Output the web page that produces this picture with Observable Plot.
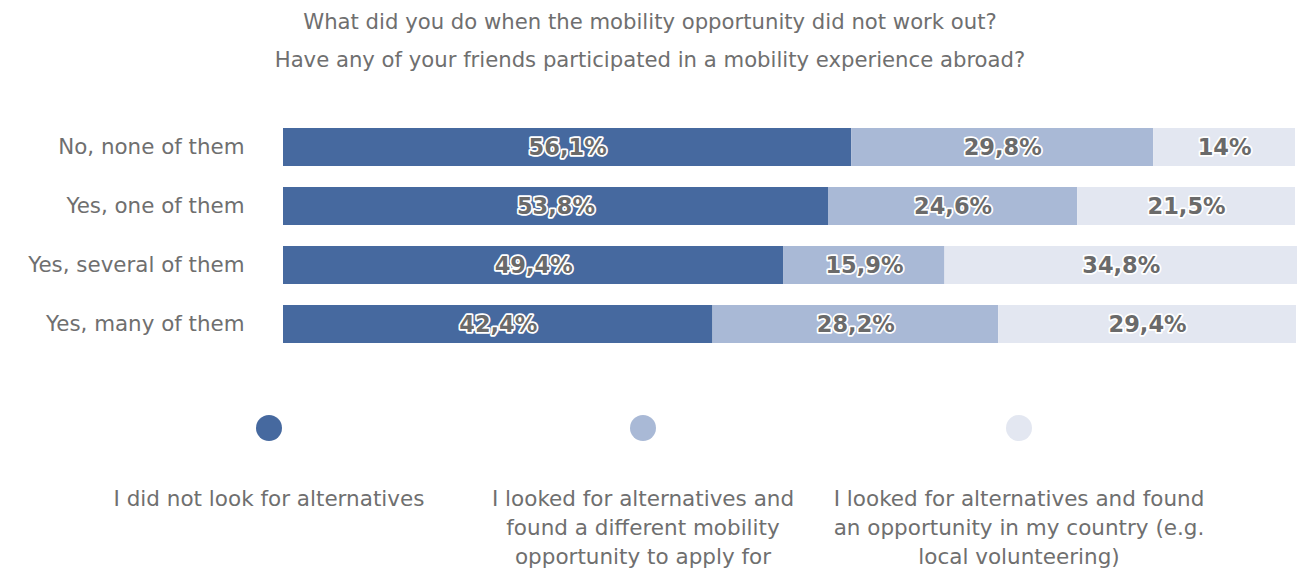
<!DOCTYPE html>
<html>
<head>
<meta charset="utf-8">
<script src="https://cdn.jsdelivr.net/npm/d3@7"></script>
<script src="https://cdn.jsdelivr.net/npm/@observablehq/plot@0.6"></script>
<style>
  html, body { margin: 0; padding: 0; background: #fff; }
  body { width: 1309px; height: 572px; position: relative; overflow: hidden; font-family: "DejaVu Sans", sans-serif; color: #6f6f6f; }
  #title { position: absolute; left: 0; top: 3px; width: 1300px; text-align: center; font-size: 21.2px; line-height: 38px; }
  #chart { position: absolute; left: 0; top: 79px; }
  .leg { position: absolute; text-align: center; font-size: 21.5px; line-height: 29px; }
  .dot { position: absolute; width: 26px; height: 26px; border-radius: 50%; }
</style>
</head>
<body>
<div id="title"></div>
<div id="chart"></div>
<div id="legend"></div>
<script>
const titleLines = [
  "What did you do when the mobility opportunity did not work out?",
  "Have any of your friends participated in a mobility experience abroad?"
];
const categories = ["No, none of them", "Yes, one of them", "Yes, several of them", "Yes, many of them"];
const answers = [
  "I did not look for alternatives",
  "I looked for alternatives and found a different mobility opportunity to apply for",
  "I looked for alternatives and found an opportunity in my country (e.g. local volunteering)"
];
const legendLines = [
  ["I did not look for alternatives"],
  ["I looked for alternatives and", "found a different mobility", "opportunity to apply for"],
  ["I looked for alternatives and found", "an opportunity in my country (e.g.", "local volunteering)"]
];
const notLooked   = [56.1, 53.8, 49.4, 42.4];
const foundOther  = [29.8, 24.6, 15.9, 28.2];
const foundLocal  = [14.0, 21.5, 34.8, 29.4];
const colors = ["#46699f", "#a9b9d6", "#e3e7f1"];

const series = [notLooked, foundOther, foundLocal];
const data = [];
categories.forEach((c, i) => {
  series.forEach((s, j) => data.push({cat: c, answer: answers[j], value: s[i]}));
});
const fmt = v => String(v).replace(".", ",") + "%";

document.getElementById("title").innerHTML = titleLines.map(t => `<div>${t}</div>`).join("");

const chart = Plot.plot({
  width: 1309,
  height: 301,
  marginLeft: 283,
  marginRight: 13,
  marginTop: 26,
  marginBottom: 15,
  style: {fontFamily: "DejaVu Sans, sans-serif", fontSize: "21px", color: "#6f6f6f", background: "white", overflow: "visible"},
  x: {domain: [0, 100], axis: null},
  y: {domain: categories, padding: 0.363, label: null},
  color: {domain: answers, range: colors},
  marks: [
    Plot.barX(data, {x: "value", y: "cat", fill: "answer"}),
    Plot.textX(data, Plot.stackX({
      x: "value", y: "cat", text: d => fmt(d.value),
      fill: "#6a6a6a", stroke: "white", strokeWidth: 3.5,
      fontWeight: "bold", fontSize: 22.5
    })),
    Plot.axisY({tickSize: 0, tickPadding: 39, fontSize: 21.4, fill: "#6f6f6f"})
  ]
});
document.getElementById("chart").appendChild(chart);

const legendX = [269, 643, 1019];
const leg = document.getElementById("legend");
answers.forEach((a, j) => {
  const dot = document.createElement("div");
  dot.className = "dot";
  dot.style.left = (legendX[j] - 13) + "px";
  dot.style.top = (428 - 13) + "px";
  dot.style.background = colors[j];
  leg.appendChild(dot);
  const t = document.createElement("div");
  t.className = "leg";
  t.style.left = (legendX[j] - 200) + "px";
  t.style.width = "400px";
  t.style.top = (498 - 14.5) + "px";
  t.innerHTML = legendLines[j].map(l => `<div>${l}</div>`).join("");
  leg.appendChild(t);
});
</script>
</body>
</html>
